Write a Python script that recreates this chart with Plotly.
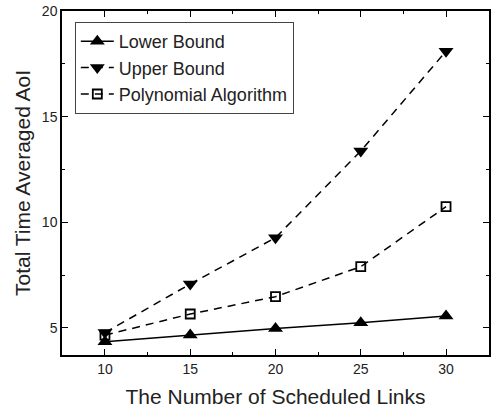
import plotly.graph_objects as go

links = [10, 15, 20, 25, 30]
lower_bound = [4.35, 4.67, 4.98, 5.25, 5.57]
upper_bound = [4.78, 7.08, 9.27, 13.37, 18.1]
poly_alg = [4.66, 5.66, 6.48, 7.9, 10.74]

FONT = "Liberation Sans, Arial, sans-serif"

fig = go.Figure()
fig.add_trace(go.Scatter(x=links, y=lower_bound, name="Lower Bound", mode="lines+markers",
                         line=dict(color="black", width=1.5),
                         marker=dict(symbol="triangle-up", size=13, color="black")))
fig.add_trace(go.Scatter(x=links, y=upper_bound, name="Upper Bound", mode="lines+markers",
                         line=dict(color="black", width=1.5, dash="8px,6px"),
                         marker=dict(symbol="triangle-down", size=13, color="black")))
fig.add_trace(go.Scatter(x=links, y=poly_alg, name="Polynomial Algorithm", mode="lines+markers",
                         line=dict(color="black", width=1.5, dash="8px,6px"),
                         marker=dict(symbol="square-open", size=9, color="black",
                                     line=dict(width=1.8, color="black"))))

axis_common = dict(showgrid=False, zeroline=False, showline=True, linecolor="black", linewidth=1.5,
                   mirror="ticks", ticks="inside", ticklen=6, tickwidth=1.2, tickcolor="black",
                   tickfont=dict(family=FONT, size=14, color="#222"), automargin=False,
                   minor=dict(ticks="inside", ticklen=3, tickwidth=1, tickcolor="black"))

fig.update_xaxes(range=[7.48, 32.52], tickvals=[10, 15, 20, 25, 30],
                 minor_tickvals=[12.5, 17.5, 22.5, 27.5],
                 title=dict(text="The Number of Scheduled Links", font=dict(family=FONT, size=21, color="#222"),
                            standoff=14),
                 **axis_common)
fig.update_yaxes(range=[3.72, 20], tickvals=[5, 10, 15, 20],
                 minor_tickvals=[7.5, 12.5, 17.5],
                 title=dict(text="Total Time Averaged AoI", font=dict(family=FONT, size=21, color="#222"),
                            standoff=6),
                 **axis_common)

fig.update_layout(
    width=493, height=411,
    margin=dict(l=62, r=4, t=11, b=56),
    paper_bgcolor="white", plot_bgcolor="white",
    showlegend=True,
    legend=dict(x=0.03, y=0.968, xanchor="left", yanchor="top",
                bordercolor="#444", borderwidth=1, bgcolor="white",
                font=dict(family=FONT, size=18, color="#222"),
                itemwidth=33, tracegroupgap=0),
)

fig.write_html("out.html", config={"displayModeBar": False},
               post_script="document.body.style.margin='0';document.body.style.overflow='hidden';")
